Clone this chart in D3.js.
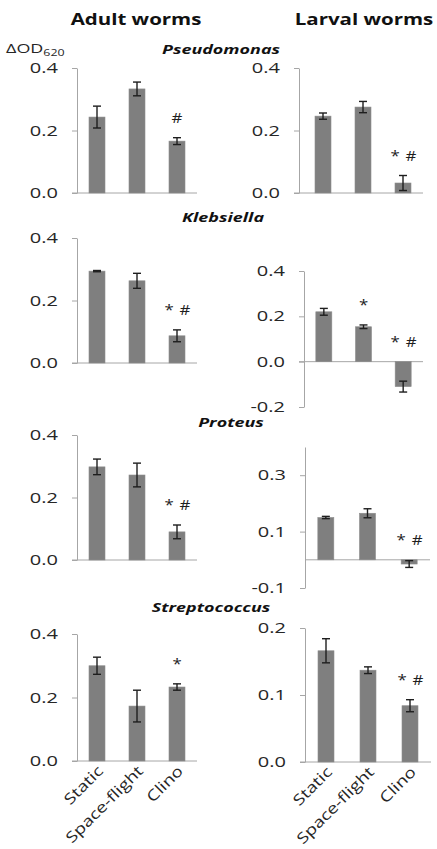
<!DOCTYPE html>
<html>
<head>
<meta charset="utf-8">
<script src="https://cdn.jsdelivr.net/npm/d3@7"></script>
<style>
  body { margin: 0; background: #fff; }
  svg { display: block; font-family: "Open Sans", sans-serif; }
</style>
</head>
<body>
<svg id="chart" width="437" height="849"></svg>
<script>
// ─── data ─────────────────────────────────────────────────────────────────────
const categories = ["Static", "Space-flight", "Clino"];
const species = ["Pseudomonas", "Klebsiella", "Proteus", "Streptococcus"];
const groups = ["Adult worms", "Larval worms"];

const adultMean = [[0.243, 0.333, 0.166], [0.294, 0.263, 0.087], [0.298, 0.272, 0.090], [0.300, 0.173, 0.233]];
const adultErr  = [[0.035, 0.022, 0.011], [0.002, 0.024, 0.019], [0.025, 0.038, 0.022], [0.027, 0.050, 0.010]];
const adultSig  = [["", "", "#"], ["", "", "* #"], ["", "", "* #"], ["", "", "*"]];
const adultDomain = [[0, 0.4], [0, 0.4], [0, 0.4], [0, 0.4]];
const adultTicks  = [[0, 0.2, 0.4], [0, 0.2, 0.4], [0, 0.2, 0.4], [0, 0.2, 0.4]];

const larvalMean = [[0.246, 0.275, 0.032], [0.220, 0.154, -0.110], [0.150, 0.165, -0.015], [0.166, 0.137, 0.084]];
const larvalErr  = [[0.010, 0.018, 0.024], [0.015, 0.008, 0.024], [0.004, 0.016, 0.012], [0.018, 0.005, 0.009]];
const larvalSig  = [["", "", "* #"], ["", "*", "* #"], ["", "", "* #"], ["", "", "* #"]];
const larvalDomain = [[0, 0.4], [-0.2, 0.4], [-0.1, 0.4], [0, 0.2]];
const larvalTicks  = [[0, 0.2, 0.4], [-0.2, 0, 0.2, 0.4], [-0.1, 0.1, 0.3], [0, 0.1, 0.2]];

// ─── layout ───────────────────────────────────────────────────────────────────
const STRETCH = 1.38;           // the reference text is drawn wide
const AXIS = "#a6a6a6", BAR = "#7f7f7f", INK = "#1e1e1e";
const BAR_W = 16, CAP = 4;

// pixel range of each panel's y domain [bottom, top]
const adultY  = [[193, 68], [363, 238], [560, 435], [761, 634]];
const larvalY = [[193, 68], [407, 271], [588, 447], [762, 628]];
const adultX  = { axis: 77, band: [77, 197] };
const larvalX = [
  { axis: 299, band: [303, 423] },
  { axis: 304, band: [304, 423] },
  { axis: 305, band: [305, 430] },
  { axis: 305, band: [305, 431] },
];
const speciesPos = [[221, 54], [223, 222], [231, 427], [211, 612]];

const svg = d3.select("#chart");
const fmt = (v) => v.toFixed(1);

function wideText(g, x, y, str, k = STRETCH) {
  return g.append("text")
    .attr("transform", `translate(${x},${y}) scale(${k},1)`)
    .text(str);
}

function panel(mean, err, sig, domain, ticks, yRange, xs, labels) {
  const g = svg.append("g");
  const y = d3.scaleLinear().domain(domain).range(yRange);
  const x = d3.scalePoint().domain(categories).range(xs.band).padding(0.5);

  // y axis
  const ax = g.append("g").attr("transform", `translate(${xs.axis},0)`)
    .call(d3.axisLeft(y).tickValues(ticks).tickSize(5).tickSizeOuter(0).tickPadding(14).tickFormat(fmt));
  ax.select(".domain").attr("stroke", AXIS);
  ax.selectAll(".tick line").attr("stroke", AXIS);
  ax.selectAll(".tick text").each(function () {
    const t = d3.select(this);
    const tx = +t.attr("x");
    t.attr("x", 0).attr("transform", `translate(${tx},0) scale(${STRETCH},1)`);
  }).attr("font-size", 14.5).attr("fill", "#262626").attr("font-family", "Open Sans, sans-serif");

  // zero baseline
  g.append("line")
    .attr("x1", xs.axis - (ticks.includes(0) ? 5 : 0)).attr("x2", xs.band[1])
    .attr("y1", y(0)).attr("y2", y(0))
    .attr("stroke", AXIS);

  const rows = categories.map((c, i) => ({ c, v: mean[i], e: err[i], s: sig[i] }));

  g.selectAll(".bar").data(rows).join("rect")
    .attr("x", (d) => x(d.c) - BAR_W / 2)
    .attr("width", BAR_W)
    .attr("y", (d) => y(Math.max(0, d.v)))
    .attr("height", (d) => Math.abs(y(d.v) - y(0)))
    .attr("fill", BAR).attr("stroke", "#8c8c8c").attr("stroke-width", 0.6);

  const eb = g.selectAll(".err").data(rows).join("g")
    .attr("stroke", INK).attr("stroke-width", 1.4);
  eb.append("line")
    .attr("x1", (d) => x(d.c)).attr("x2", (d) => x(d.c))
    .attr("y1", (d) => y(d.v - d.e)).attr("y2", (d) => y(d.v + d.e));
  [-1, 1].forEach((s) => {
    eb.append("line")
      .attr("x1", (d) => x(d.c) - CAP).attr("x2", (d) => x(d.c) + CAP)
      .attr("y1", (d) => y(d.v + s * d.e)).attr("y2", (d) => y(d.v + s * d.e));
  });

  // significance marks, "*" and "#" spaced apart like the reference
  rows.filter((d) => d.s).forEach((d) => {
    const parts = d.s.split(" ");
    const cy = y(Math.max(0, d.v + d.e)) - 20;
    parts.forEach((p, j) => {
      const dx = parts.length > 1 ? (j === 0 ? -8 : 8) : 0;
      wideText(g, x(d.c) + dx, cy, p, 1.2)
        .attr("text-anchor", "middle").attr("dominant-baseline", "central")
        .attr("font-size", 14).attr("fill", INK);
    });
  });

  // category labels: 45° slant, stretched along the text direction
  if (labels) {
    categories.forEach((c) => {
      g.append("text")
        .attr("transform", `translate(${x(c) + 7},${y(0) + 11}) rotate(-45) scale(1.25,1)`)
        .attr("text-anchor", "end").attr("font-size", 15)
        .attr("fill", "#262626")
        .text(c);
    });
  }
}

species.forEach((sp, i) => {
  const last = i === species.length - 1;
  panel(adultMean[i], adultErr[i], adultSig[i], adultDomain[i], adultTicks[i], adultY[i], adultX, last);
  panel(larvalMean[i], larvalErr[i], larvalSig[i], larvalDomain[i], larvalTicks[i], larvalY[i], larvalX[i], last);
  wideText(svg, speciesPos[i][0], speciesPos[i][1], sp)
    .attr("text-anchor", "middle").attr("font-size", 13)
    .attr("font-weight", 700).attr("font-style", "italic").attr("fill", "#111");
});

// column headings
[136, 364].forEach((cx, i) => {
  wideText(svg, cx, 25, groups[i], 1.28)
    .attr("text-anchor", "middle").attr("font-size", 16)
    .attr("font-weight", 700).attr("fill", "#111");
});

// y-axis unit
const unit = wideText(svg, 6, 53, "").attr("font-size", 13).attr("fill", "#262626");
unit.append("tspan").text("\u0394OD");
unit.append("tspan").attr("font-size", 9).attr("dy", 2.5).text("620");
</script>
</body>
</html>
